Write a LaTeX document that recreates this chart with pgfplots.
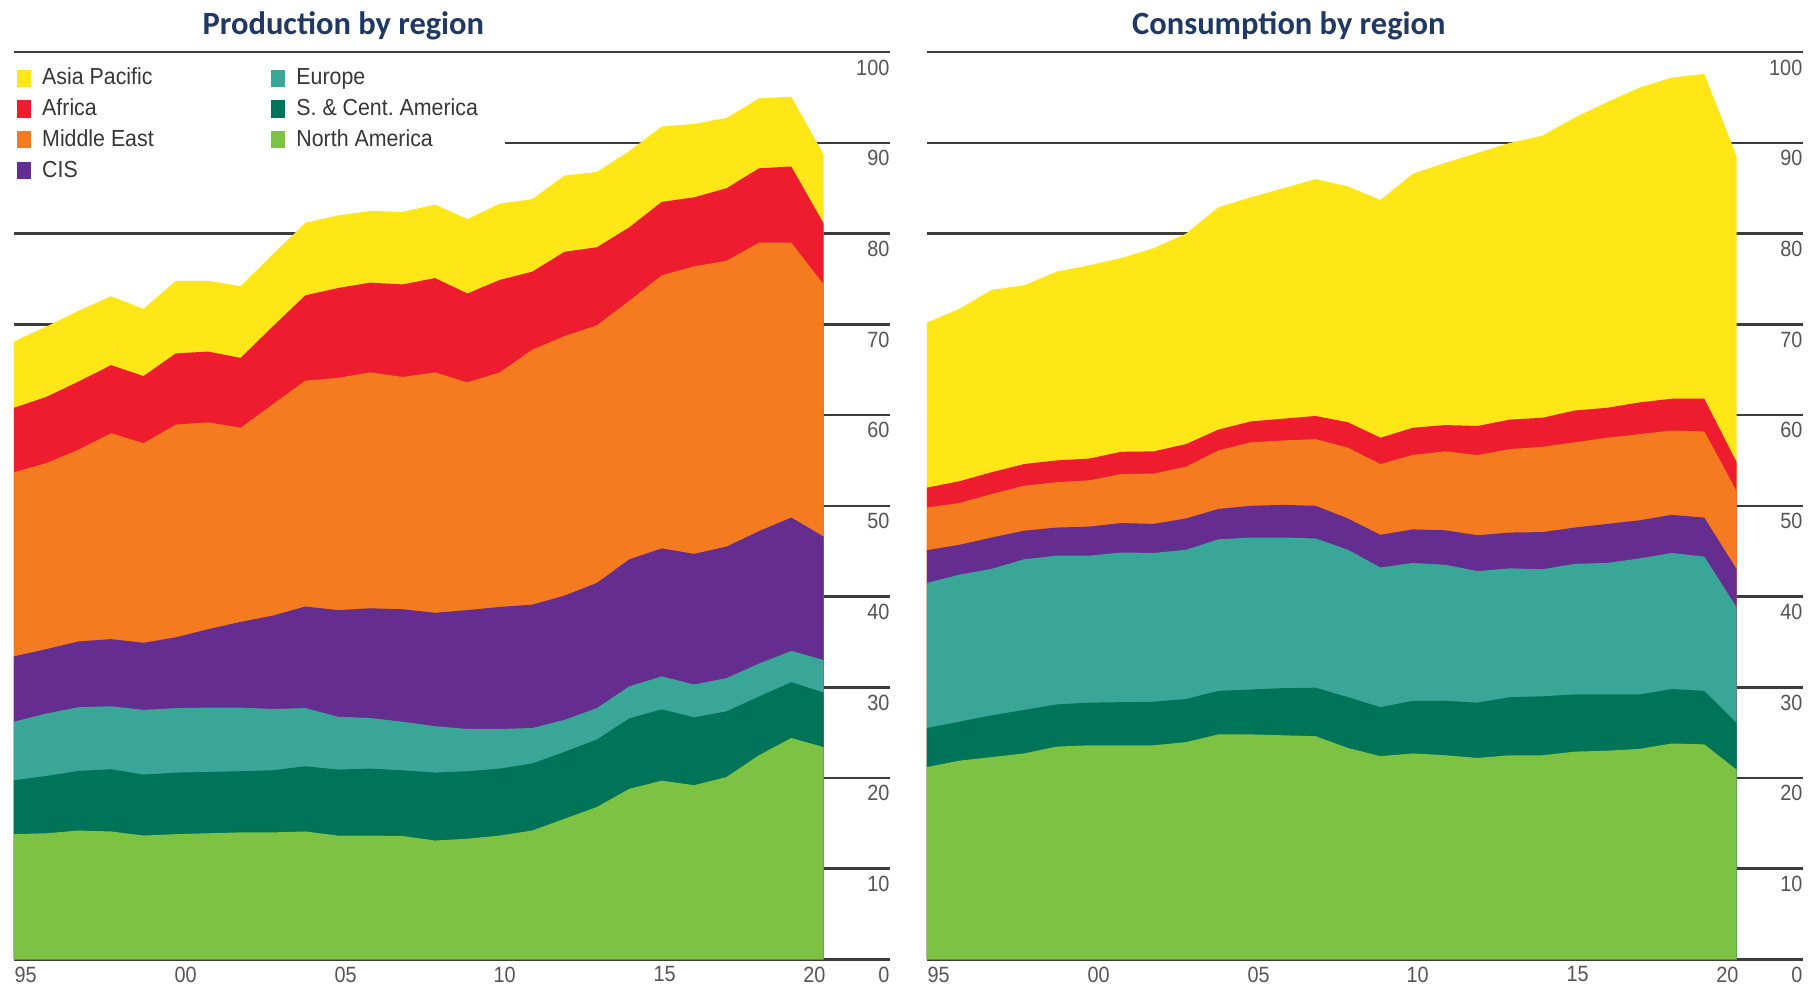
\documentclass[border=0pt]{standalone}
\usepackage{pgfplots}
\usepackage{pgfplotstable}
\pgfplotsset{compat=1.18}
\usepackage{fontspec}
\setmainfont{Liberation Sans}
\newfontfamily\legfont[FakeStretch=0.92]{Liberation Sans}
\newfontfamily\tickfont[FakeStretch=0.9]{Liberation Sans}
\newfontfamily\titlefont{Carlito}
\frenchspacing
\definecolor{cAP}{RGB}{255,230,23}
\definecolor{cAF}{RGB}{237,28,46}
\definecolor{cME}{RGB}{244,123,32}
\definecolor{cCIS}{RGB}{102,45,145}
\definecolor{cEU}{RGB}{58,166,151}
\definecolor{cSC}{RGB}{0,116,89}
\definecolor{cNA}{RGB}{125,194,66}
\definecolor{gridc}{RGB}{60,60,60}
\definecolor{tickc}{RGB}{85,85,85}
\definecolor{legc}{RGB}{55,55,55}
\definecolor{titlec}{RGB}{31,56,100}

% cumulative tops of the stacked areas
\pgfplotstableread{
year na sc eu cis me af ap
1995 13.8 19.74 26.2 33.4 53.7 60.8 68.1
1996 13.9 20.22 27.1 34.2 54.7 62.0 69.75
1997 14.2 20.77 27.8 35.05 56.2 63.7 71.5
1998 14.1 20.96 27.9 35.3 58.0 65.5 73.1
1999 13.65 20.37 27.5 34.9 56.9 64.3 71.7
2000 13.8 20.59 27.7 35.5 58.95 66.8 74.8
2001 13.9 20.66 27.75 36.4 59.2 67.0 74.8
2002 14.0 20.74 27.75 37.2 58.6 66.3 74.2
2003 14.0 20.85 27.6 37.9 61.2 69.8 77.75
2004 14.1 21.29 27.7 38.9 63.8 73.2 81.2
2005 13.65 20.92 26.75 38.5 64.1 74.0 82.0
2006 13.65 21.03 26.6 38.7 64.7 74.6 82.5
2007 13.6 20.85 26.2 38.6 64.2 74.4 82.4
2008 13.1 20.59 25.7 38.2 64.7 75.1 83.2
2009 13.3 20.74 25.4 38.5 63.6 73.4 81.6
2010 13.65 21.03 25.4 38.85 64.7 74.9 83.3
2011 14.2 21.59 25.5 39.1 67.2 75.8 83.8
2012 15.5 22.88 26.4 40.1 68.7 78.0 86.4
2013 16.8 24.24 27.7 41.5 69.9 78.5 86.8
2014 18.8 26.57 30.1 44.1 72.6 80.7 89.1
2015 19.7 27.56 31.2 45.3 75.4 83.5 91.8
2016 19.2 26.68 30.3 44.7 76.4 84.0 92.1
2017 20.1 27.34 31.0 45.5 77.0 85.0 92.75
2018 22.5 28.97 32.6 47.2 79.0 87.2 94.9
2019 24.4 30.55 34.0 48.7 79.0 87.4 95.1
2020 23.4 29.41 33.0 46.6 74.4 81.1 88.7
}\prodtab

\pgfplotstableread{
year na sc eu cis me af ap
1995 21.2 25.5 41.5 45.1 49.8 52.0 70.2
1996 21.9 26.2 42.4 45.7 50.3 52.7 71.7
1997 22.3 26.9 43.05 46.5 51.3 53.7 73.8
1998 22.7 27.5 44.1 47.25 52.2 54.6 74.3
1999 23.45 28.1 44.5 47.6 52.6 55.0 75.8
2000 23.6 28.3 44.5 47.7 52.8 55.2 76.5
2001 23.6 28.35 44.85 48.1 53.5 55.95 77.3
2002 23.6 28.4 44.8 48.0 53.55 56.0 78.4
2003 23.95 28.7 45.15 48.6 54.3 56.8 80.0
2004 24.8 29.6 46.3 49.65 56.1 58.4 82.9
2005 24.8 29.75 46.5 50.0 57.0 59.3 84.0
2006 24.7 29.9 46.5 50.1 57.2 59.6 85.0
2007 24.6 29.95 46.4 50.0 57.35 59.9 86.0
2008 23.3 28.9 45.15 48.6 56.4 59.2 85.2
2009 22.4 27.8 43.2 46.8 54.6 57.5 83.7
2010 22.7 28.5 43.7 47.4 55.6 58.6 86.6
2011 22.5 28.5 43.5 47.3 56.0 58.9 87.8
2012 22.2 28.3 42.8 46.75 55.6 58.8 88.9
2013 22.5 28.9 43.1 47.05 56.25 59.5 90.0
2014 22.5 29.0 43.0 47.1 56.5 59.7 90.8
2015 22.9 29.2 43.6 47.6 57.0 60.5 92.8
2016 23.0 29.2 43.7 48.0 57.5 60.8 94.5
2017 23.2 29.2 44.2 48.4 57.9 61.4 96.1
2018 23.8 29.8 44.8 49.0 58.3 61.8 97.2
2019 23.7 29.6 44.4 48.7 58.2 61.8 97.6
2020 20.9 26.05 38.8 43.0 51.6 54.8 88.5
}\constab

\pgfplotsset{
  panel/.style={
    scale only axis, width=377.5pt, height=391pt,
    xmin=1995, xmax=2022.04, ymin=0, ymax=100,
    axis line style={draw=none},
    major tick style={draw=none},
    ytick={0,10,...,100},
    ymajorgrids,
    grid style={line width=1.1pt, color=gridc},
    yticklabel pos=right,
    /pgf/number format/assume math mode=true,
    yticklabel style={anchor=north east, font=\tickfont\fontsize{9.5}{10}\selectfont,
      text=tickc, inner sep=0pt, xshift=0pt, yshift=-3pt},
    xtick={1995.36,2000.30,2005.24,2010.15,2015.09,2019.71},
    xticklabels={95,00,05,10,15,20},
    xticklabel style={font=\tickfont\fontsize{9.5}{10}\selectfont, text=tickc,
      inner sep=0pt, anchor=north, yshift=-3pt},
  },
  sq/.style={draw=none, fill=#1,
    legend image code/.code={\fill[##1] (0pt,-3.7pt) rectangle (6pt,3.7pt);}},
}

\begin{document}
\begin{tikzpicture}
\useasboundingbox (-6pt,-15pt) rectangle (778pt,413.5pt);

\begin{axis}[panel, at={(0pt,0pt)}, anchor=south west,
  legend columns=2,
  legend cell align=left,
  legend style={at={(0,1)}, anchor=north west, yshift=-3.4pt,
    draw=none, fill=white, inner xsep=1pt, inner ysep=1pt,
    font=\legfont\fontsize{10}{12}\selectfont, text=legc,
    row sep=0pt,
    nodes={inner xsep=1.5pt, inner ysep=1.5pt, text height=8pt, text depth=2.25pt},
    /tikz/every odd column/.append style={column sep=3.5pt},
    /tikz/every even column/.append style={column sep=49pt}},
]
\addplot[draw=none, fill=cAP, forget plot] table[x=year, y=ap]{\prodtab} \closedcycle;
\addplot[draw=none, fill=cAF, forget plot] table[x=year, y=af]{\prodtab} \closedcycle;
\addplot[draw=none, fill=cME, forget plot] table[x=year, y=me]{\prodtab} \closedcycle;
\addplot[draw=none, fill=cCIS, forget plot] table[x=year, y=cis]{\prodtab} \closedcycle;
\addplot[draw=none, fill=cEU, forget plot] table[x=year, y=eu]{\prodtab} \closedcycle;
\addplot[draw=none, fill=cSC, forget plot] table[x=year, y=sc]{\prodtab} \closedcycle;
\addplot[draw=none, fill=cNA, forget plot] table[x=year, y=na]{\prodtab} \closedcycle;
\addlegendimage{sq=cAP}\addlegendentry{Asia Pacific}
\addlegendimage{sq=cEU}\addlegendentry{Europe}
\addlegendimage{sq=cAF}\addlegendentry{Africa}
\addlegendimage{sq=cSC}\addlegendentry{S. \& Cent. America\hspace*{9pt}}
\addlegendimage{sq=cME}\addlegendentry{Middle East}
\addlegendimage{sq=cNA}\addlegendentry{North America}
\addlegendimage{sq=cCIS}\addlegendentry{CIS}
\end{axis}

\begin{axis}[panel, at={(393.5pt,0pt)}, anchor=south west]
\addplot[draw=none, fill=cAP] table[x=year, y=ap]{\constab} \closedcycle;
\addplot[draw=none, fill=cAF] table[x=year, y=af]{\constab} \closedcycle;
\addplot[draw=none, fill=cME] table[x=year, y=me]{\constab} \closedcycle;
\addplot[draw=none, fill=cCIS] table[x=year, y=cis]{\constab} \closedcycle;
\addplot[draw=none, fill=cEU] table[x=year, y=eu]{\constab} \closedcycle;
\addplot[draw=none, fill=cSC] table[x=year, y=sc]{\constab} \closedcycle;
\addplot[draw=none, fill=cNA] table[x=year, y=na]{\constab} \closedcycle;
\end{axis}

\node[anchor=base, text=titlec, font=\titlefont\bfseries\fontsize{14}{16}\selectfont]
  at (142pt,398.5pt) {Production by region};
\node[anchor=base, text=titlec, font=\titlefont\bfseries\fontsize{14}{16}\selectfont]
  at (549.5pt,398.5pt) {Consumption by region};
\end{tikzpicture}
\end{document}
